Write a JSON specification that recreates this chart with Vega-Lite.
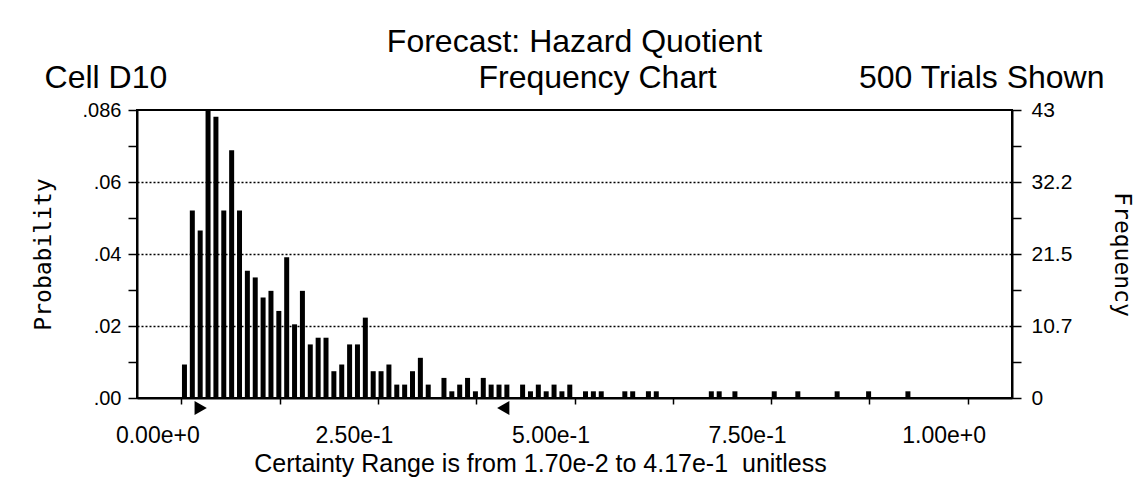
{
  "$schema": "https://vega.github.io/schema/vega-lite/v6.json",
  "width": 875,
  "height": 288,
  "autosize": {"type": "none"},
  "padding": {"left": 137, "top": 110, "right": 135, "bottom": 83},
  "background": "white",
  "config": {
    "view": {"stroke": "black", "strokeWidth": 2},
    "font": "Liberation Sans"
  },
  "title": {
    "text": "Forecast: Hazard Quotient",
    "subtitle": "Cell D10\u00a0\u00a0\u00a0\u00a0\u00a0\u00a0\u00a0\u00a0\u00a0\u00a0\u00a0\u00a0\u00a0\u00a0\u00a0\u00a0\u00a0\u00a0\u00a0\u00a0\u00a0\u00a0\u00a0\u00a0\u00a0\u00a0\u00a0\u00a0\u00a0\u00a0\u00a0\u00a0\u00a0\u00a0\u00a0Frequency Chart\u00a0\u00a0\u00a0\u00a0\u00a0\u00a0\u00a0\u00a0\u00a0\u00a0\u00a0\u00a0\u00a0\u00a0\u00a0\u00a0500 Trials Shown",
    "frame": "group",
    "anchor": "middle",
    "font": "Liberation Sans",
    "fontSize": 32,
    "fontWeight": "normal",
    "color": "black",
    "subtitleFont": "Liberation Sans",
    "subtitleFontSize": 32,
    "subtitleColor": "black",
    "offset": 4,
    "subtitlePadding": 4
  },
  "datasets": {
    "bins": [
      {"value": 0.004, "trials": 5},
      {"value": 0.014, "trials": 28},
      {"value": 0.024, "trials": 25},
      {"value": 0.034, "trials": 43},
      {"value": 0.044, "trials": 42},
      {"value": 0.054, "trials": 28},
      {"value": 0.064, "trials": 37},
      {"value": 0.074, "trials": 28},
      {"value": 0.084, "trials": 19},
      {"value": 0.094, "trials": 18},
      {"value": 0.104, "trials": 15},
      {"value": 0.114, "trials": 16},
      {"value": 0.124, "trials": 13},
      {"value": 0.134, "trials": 21},
      {"value": 0.144, "trials": 11},
      {"value": 0.154, "trials": 16},
      {"value": 0.164, "trials": 8},
      {"value": 0.174, "trials": 9},
      {"value": 0.184, "trials": 9},
      {"value": 0.194, "trials": 4},
      {"value": 0.204, "trials": 5},
      {"value": 0.214, "trials": 8},
      {"value": 0.224, "trials": 8},
      {"value": 0.234, "trials": 12},
      {"value": 0.244, "trials": 4},
      {"value": 0.254, "trials": 4},
      {"value": 0.264, "trials": 5},
      {"value": 0.274, "trials": 2},
      {"value": 0.284, "trials": 2},
      {"value": 0.294, "trials": 4},
      {"value": 0.304, "trials": 6},
      {"value": 0.314, "trials": 2},
      {"value": 0.334, "trials": 3},
      {"value": 0.344, "trials": 1},
      {"value": 0.354, "trials": 2},
      {"value": 0.364, "trials": 3},
      {"value": 0.374, "trials": 1},
      {"value": 0.384, "trials": 3},
      {"value": 0.394, "trials": 2},
      {"value": 0.404, "trials": 2},
      {"value": 0.414, "trials": 2},
      {"value": 0.434, "trials": 2},
      {"value": 0.444, "trials": 1},
      {"value": 0.454, "trials": 2},
      {"value": 0.464, "trials": 1},
      {"value": 0.474, "trials": 2},
      {"value": 0.484, "trials": 1},
      {"value": 0.494, "trials": 2},
      {"value": 0.514, "trials": 1},
      {"value": 0.524, "trials": 1},
      {"value": 0.534, "trials": 1},
      {"value": 0.564, "trials": 1},
      {"value": 0.574, "trials": 1},
      {"value": 0.594, "trials": 1},
      {"value": 0.604, "trials": 1},
      {"value": 0.674, "trials": 1},
      {"value": 0.684, "trials": 1},
      {"value": 0.704, "trials": 1},
      {"value": 0.754, "trials": 1},
      {"value": 0.784, "trials": 1},
      {"value": 0.834, "trials": 1},
      {"value": 0.874, "trials": 1},
      {"value": 0.924, "trials": 1}
    ],
    "lower": [{"value": 0.017}],
    "upper": [{"value": 0.417}]
  },
  "layer": [
    {
      "data": {"name": "bins"},
      "mark": {"type": "bar", "color": "black", "width": 5},
      "encoding": {
        "x": {
          "field": "value",
          "type": "quantitative",
          "scale": {"domain": [-0.05, 1.05], "nice": false, "zero": false},
          "axis": {
            "values": [0, 0.125, 0.25, 0.375, 0.5, 0.625, 0.75, 0.875, 1],
            "labelExpr": "round(datum.value*8) % 2 == 0 ? format(datum.value, '.2e') : ''",
            "labelOffset": -24,
            "labelFont": "Liberation Sans",
            "labelFontSize": 23,
            "labelColor": "black",
            "labelPadding": 20,
            "labelFlush": false,
            "labelOverlap": false,
            "labelBound": false,
            "tickSize": 6,
            "tickColor": "black",
            "tickWidth": 1.5,
            "domainColor": "black",
            "domainWidth": 2,
            "grid": false,
            "title": "Certainty Range is from 1.70e-2 to 4.17e-1\u00a0\u00a0unitless",
            "titleFont": "Liberation Sans",
            "titleFontSize": 25,
            "titleFontWeight": "normal",
            "titleColor": "black",
            "titlePadding": 4,
            "titleX": 403
          }
        },
        "y": {
          "field": "trials",
          "type": "quantitative",
          "scale": {"domain": [0, 43], "nice": false, "zero": true},
          "axis": {
            "orient": "left",
            "values": [0, 5.375, 10.75, 16.125, 21.5, 26.875, 32.25, 37.625, 43],
            "labelExpr": "['.00','','.02','','.04','','.06','','.086'][round(datum.value/5.375)]",
            "labelFont": "Liberation Sans",
            "labelFontSize": 20,
            "labelColor": "black",
            "labelPadding": 7,
            "labelFlush": false,
            "labelOverlap": false,
            "labelBound": false,
            "tickSize": 9,
            "tickColor": "black",
            "tickWidth": 1.5,
            "domainColor": "black",
            "domainWidth": 2,
            "grid": true,
            "gridColor": "black",
            "gridDash": [2, 2],
            "gridWidth": 1.5,
            "gridOpacity": {
              "condition": {"test": "round(datum.value/5.375) % 2 == 0 && datum.value > 1 && datum.value < 42", "value": 1},
              "value": 0
            },
            "title": "Probability",
            "titleFont": "DejaVu Sans Mono",
            "titleFontSize": 23,
            "titleFontWeight": "normal",
            "titleColor": "black",
            "titlePadding": 27
          }
        }
      }
    },
    {
      "data": {"name": "lower"},
      "mark": {"type": "point", "shape": "triangle-right", "filled": true, "color": "black", "opacity": 1, "size": 200, "yOffset": 10, "xOffset": 6},
      "encoding": {
        "x": {"field": "value", "type": "quantitative"},
        "y": {
          "datum": 0,
          "type": "quantitative",
          "axis": {
            "orient": "right",
            "values": [0, 5.375, 10.75, 16.125, 21.5, 26.875, 32.25, 37.625, 43],
            "labelExpr": "['0','','10.7','','21.5','','32.2','','43'][round(datum.value/5.375)]",
            "labelFont": "Liberation Sans",
            "labelFontSize": 21,
            "labelColor": "black",
            "labelPadding": 10,
            "labelFlush": false,
            "labelOverlap": false,
            "labelBound": false,
            "tickSize": 9,
            "tickColor": "black",
            "tickWidth": 1.5,
            "domainColor": "black",
            "domainWidth": 2,
            "grid": false,
            "title": "Frequency",
            "titleAngle": 90,
            "titleFont": "DejaVu Sans Mono",
            "titleFontSize": 23,
            "titleFontWeight": "normal",
            "titleColor": "black",
            "titlePadding": 38
          }
        }
      }
    },
    {
      "data": {"name": "upper"},
      "mark": {"type": "point", "shape": "triangle-left", "filled": true, "color": "black", "opacity": 1, "size": 200, "yOffset": 10, "xOffset": -6},
      "encoding": {
        "x": {"field": "value", "type": "quantitative"},
        "y": {"datum": 0, "type": "quantitative", "axis": null}
      }
    }
  ],
  "resolve": {"axis": {"y": "independent"}}
}
